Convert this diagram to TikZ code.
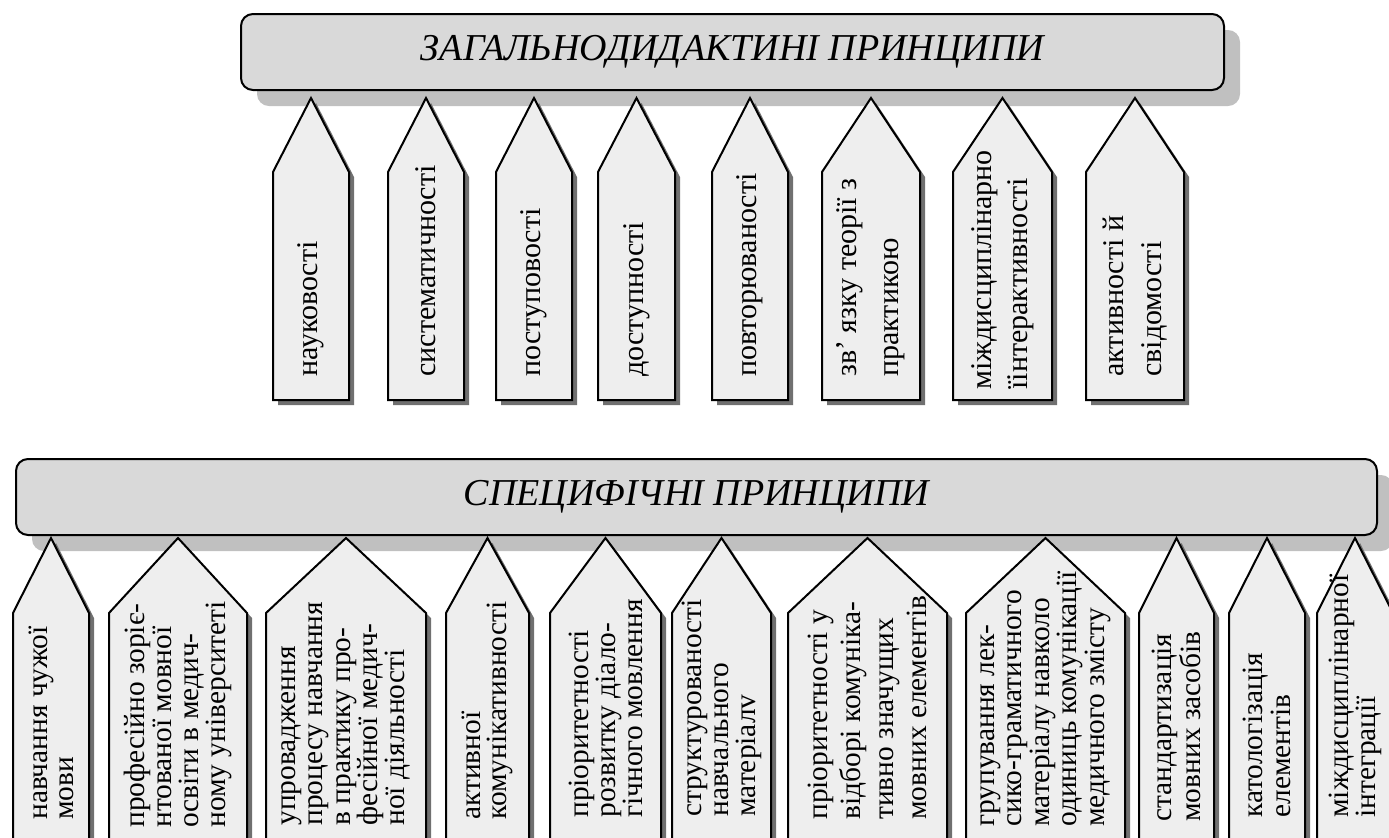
\documentclass[tikz,border=0pt]{standalone}
\usepackage{fontspec}
\setmainfont{Liberation Serif}
\usetikzlibrary{positioning, shadows}
\definecolor{boxgray}{HTML}{D9D9D9}
\definecolor{boxshade}{HTML}{C0C0C0}
\definecolor{tabgray}{HTML}{EEEEEE}
\definecolor{tabshade}{HTML}{707070}
\tikzset{
  headbox/.style ={draw, line width=1pt, rounded corners=6pt, fill=boxgray,
                   minimum height=38pt, inner sep=0pt,
                   font=\fontsize{19}{22}\selectfont\itshape,
                   drop shadow={shadow xshift=8pt, shadow yshift=-8pt,
                                fill=boxshade, opacity=1}},
  tab/.style     ={draw, line width=1pt, fill=tabgray, line join=miter},
  tabshadow/.style={fill=tabshade},
  tabtext/.style ={rotate=90, anchor=west, align=left, inner sep=0pt},
}

\begin{document}
\begin{tikzpicture}[x=0.5pt, y=-0.5pt]
  \useasboundingbox (0,0) rectangle (1389,837);
  \clip (0,0) rectangle (1389,837);
  \fill[white] (0,0) rectangle (1389,837);

  % headers
  \node[headbox, minimum width=491.5pt] (general) at (732.5,52) {ЗАГАЛЬНОДИДАКТИНІ ПРИНЦИПИ};
  \node[headbox, minimum width=680.5pt] (specific) at (696.5,497) {СПЕЦИФІЧНІ ПРИНЦИПИ};

  % general principles
  \foreach \xl/\xr/\ys/\sk/\txt [count=\i] in {
      273/349/377/19/{науковості},
      388/464/377/19/{систематичності},
      496/572/377/19/{поступовості},
      598/675/377/19/{доступності},
      712/788/377/19/{повторюваності},
      822/920/377/21/{зв’ язку теорії з\\практикою},
      953/1052/390/18/{міждисциплінарно\\їінтерактивності},
      1086/1184/377/19/{активності й\\свідомості}}{
    \pgfmathsetmacro\xc{(\xl+\xr)/2}
    \fill[tabshadow] (\xl+5,405) -- (\xl+5,177) -- (\xc+5,103) -- (\xr+5,177) -- (\xr+5,405) -- cycle;
    \draw[tab] (\xl,400) -- (\xl,172) -- (\xc,98) -- (\xr,172) -- (\xr,400) -- cycle;
    \node[tabtext, font=\fontsize{15}{\sk}\selectfont] (g\i) at (\xc,\ys) {\txt};
  }

  % specific principles
  \foreach \xl/\xr/\ys/\sk/\txt [count=\i] in {
      13/89/820/13/{навчання чужої\\мови},
      109/247/828/13.6/{професійно зоріє-\\нтованої мовної\\освіти в медич-\\ному університеті},
      266/426/826/13.6/{упровадження\\процесу навчання\\в практику про-\\фесійної медич-\\ної діяльності},
      446/529/820/13/{активної\\комунікативності},
      550/661/818/13.5/{пріоритетності\\розвитку діало-\\гічного мовлення},
      672/771/817/13.5/{структурованості\\навчального\\матеріалv},
      788/947/820/16.5/{пріоритетності у\\відборі комуніка-\\тивно значущих\\мовних елементів},
      966/1125/827/13.8/{групування лек-\\сико-граматичного\\матеріалу навколо\\одиниць комунікації\\медичного змісту},
      1139/1214/822/14.5/{стандартизація\\мовних засобів},
      1229/1305/818/14/{катологізація\\елементів},
      1317/1393/818/13.5/{міждисциплінарної\\інтеграції}}{
    \pgfmathsetmacro\xc{(\xl+\xr)/2}
    \fill[tabshadow] (\xl+5,870) -- (\xl+5,618) -- (\xc+5,543) -- (\xr+5,618) -- (\xr+5,870) -- cycle;
    \draw[tab] (\xl,865) -- (\xl,613) -- (\xc,538) -- (\xr,613) -- (\xr,865) -- cycle;
    \node[tabtext, font=\fontsize{14.7}{\sk}\selectfont] (s\i) at (\xc,\ys) {\txt};
  }
\end{tikzpicture}
\end{document}
